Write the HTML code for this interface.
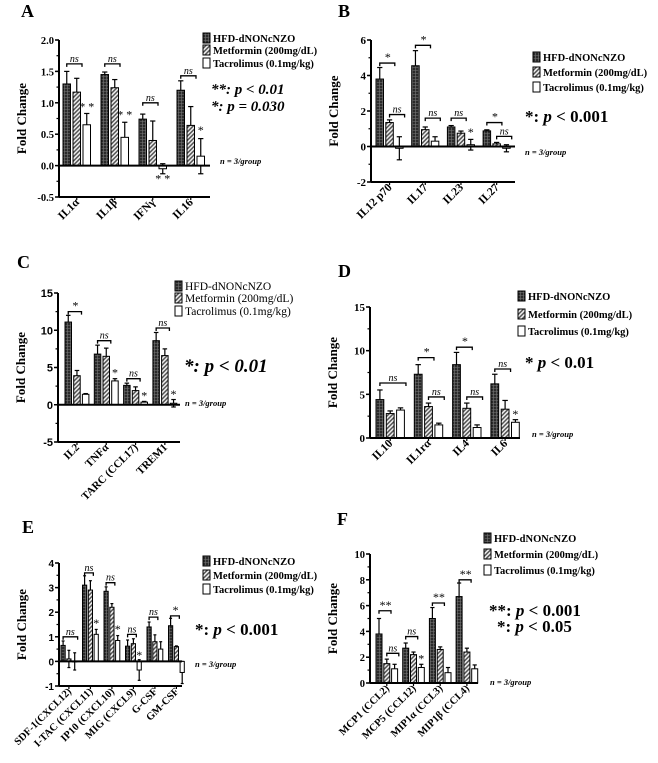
<!DOCTYPE html>
<html><head><meta charset="utf-8">
<style>
html,body{margin:0;padding:0;background:#fff;}
svg{display:block;font-family:"Liberation Serif",serif;}
</style></head>
<body>
<svg id="fig" width="658" height="763" viewBox="0 0 658 763" xmlns="http://www.w3.org/2000/svg">
<defs>
<pattern id="pGrid" width="3" height="3" patternUnits="userSpaceOnUse"><rect width="3" height="3" fill="#2a2a2a"/><path d="M0 1.5H3M1.5 0V3" stroke="#777" stroke-width="0.6"/></pattern>
<pattern id="pHatch" width="3" height="3" patternUnits="userSpaceOnUse" patternTransform="rotate(45)"><rect width="3" height="3" fill="#eee"/><rect width="1.5" height="3" fill="#555"/></pattern>
</defs>
</svg>
<script>
// Panel A
const catA=["IL1α","IL1β","IFNγ","IL16"];
const hfdA=[1.3,1.45,0.74,1.2], metA=[1.17,1.24,0.4,0.64], tacA=[0.65,0.45,-0.05,0.15];
const ehA=[0.2,0.04,0.08,0.15], emA=[0.22,0.13,0.31,0.3], etA=[0.18,0.24,0.08,0.28];
const tickA=[2.0,1.5,1.0,0.5,0.0,-0.5], tickLabA=["2.0","1.5","1.0","0.5","0.0","-0.5"];
// Panel B
const catB=["IL12 p70","IL17","IL23","IL27"];
const hfdB=[3.8,4.55,1.1,0.88], metB=[1.35,0.95,0.75,0.15], tacB=[-0.1,0.3,0.1,-0.1];
const ehB=[0.65,0.85,0.08,0.06], emB=[0.15,0.15,0.12,0.08], etB=[0.65,0.25,0.3,0.2];
const tickB=[6,4,2,0,-2], tickLabB=["6","4","2","0","-2"];
// Panel C
const catC=["IL2","TNFα","TARC (CCL17)","TREM1"];
const hfdC=[11.1,6.8,2.6,8.6], metC=[3.9,6.5,1.9,6.6], tacC=[1.4,3.2,0.35,0.2];
const ehC=[0.9,1.2,0.3,1.1], emC=[0.7,1.1,0.5,0.9], etC=[0.1,0.3,0.1,0.5];
const tickC=[15,10,5,0,-5], tickLabC=["15","10","5","0","-5"];
// Panel D
const catD=["IL10","IL1rα","IL4","IL6"];
const hfdD=[4.4,7.3,8.4,6.2], metD=[2.8,3.6,3.4,3.3], tacD=[3.2,1.5,1.2,1.8];
const ehD=[1.1,1.1,1.4,1.1], emD=[0.3,0.4,0.6,1.0], etD=[0.25,0.2,0.3,0.3];
const tickD=[15,10,5,0], tickLabD=["15","10","5","0"];
// Panel E
const catE=["SDF-1(CXCL12)","I-TAC (CXCL11)","IP10 (CXCL10)","MIG (CXCL9)","G-CSF","GM-CSF"];
const hfdE=[0.65,3.1,2.85,0.62,1.4,1.45], metE=[0.1,2.9,2.2,0.72,0.8,0.6], tacE=[0,1.1,0.85,-0.35,0.5,-0.45];
const ehE=[0.18,0.38,0.18,0.25,0.2,0.3], emE=[0.35,0.38,0.15,0.2,0.28,0.03], etE=[0.35,0.2,0.2,0.42,0.3,0.45];
const tickE=[4,3,2,1,0,-1], tickLabE=["4","3","2","1","0","-1"];
// Panel F
const catF=["MCP1 (CCL2)","MCP5 (CCL12)","MIP1α (CCL3)","MIP1β (CCL4)"];
const hfdF=[3.8,2.7,5.0,6.7], metF=[1.5,2.2,2.6,2.4], tacF=[1.1,1.2,0.8,1.1];
const ehF=[1.2,0.4,0.85,1.05], emF=[0.35,0.2,0.2,0.3], etF=[0.35,0.25,0.4,0.3];
const tickF=[10,8,6,4,2,0], tickLabF=["10","8","6","4","2","0"];

const NS="http://www.w3.org/2000/svg";
const svg=document.getElementById('fig');
function mk(tag,attrs,parent,txt){const e=document.createElementNS(NS,tag);for(const k in attrs)e.setAttribute(k,attrs[k]);if(txt!==undefined)e.textContent=txt;(parent||svg).appendChild(e);return e;}

const panels=[
 {id:'a',L:'A',lx:21,ly:17,ax:59,top:40,bot:197,ymax:2,ymin:-0.5,minor:0.25,ticks:tickA,tl:tickLabA,tfs:10.5,
  x0:63,gs:38,bw:7.5,gap:2.5,xend:210,cats:catA,cfs:11.5,s:[hfdA,metA,tacA],e:[ehA,emA,etA],
  br:[[0,0,1,1.62,'ns'],[1,0,1,1.62,'ns'],[2,0,1,1.0,'ns'],[3,0,1,1.43,'ns']],
  st:[[0,2,0.88,'* *'],[1,2,0.75,'* *'],[2,2,-0.27,'* *'],[3,2,0.5,'*']],
  lgx:203,lgy:[42,54,67],lfs:10.5,lb:true,
  p:[[211,94,'**: ',' < 0.01',15,true],[211,111,'*: ',' = 0.030',15,true]],n:[220,164,8.5]},
 {id:'b',L:'B',lx:338,ly:17,ax:371,top:40,bot:182,ymax:6,ymin:-2,minor:1,ticks:tickB,tl:tickLabB,tfs:11,
  x0:376,gs:35.7,bw:7.5,gap:2.3,xend:515,cats:catB,cfs:11.5,s:[hfdB,metB,tacB],e:[ehB,emB,etB],
  br:[[0,0,1,4.7,'*'],[1,0,1,5.7,'*'],[0,1,2,1.8,'ns'],[1,1,2,1.6,'ns'],[2,0,1,1.6,'ns'],[3,0,1,1.35,'*'],[3,1,2,0.57,'ns']],
  st:[[2,2,0.6,'*']],
  lgx:533,lgy:[61,76,91],lfs:10.5,lb:true,
  p:[[525,122,'*: ',' < 0.001',17,false]],n:[525,155,8.5]},
 {id:'c',L:'C',lx:17,ly:268,ax:58,top:293,bot:442,ymax:15,ymin:-5,minor:2.5,ticks:tickC,tl:tickLabC,tfs:11,sans:true,
  x0:65,gs:29.3,bw:6.5,gap:2.2,xend:180,cats:catC,cfs:11,s:[hfdC,metC,tacC],e:[ehC,emC,etC],
  br:[[0,0,1,12.5,'*'],[1,0,1,8.6,'ns'],[2,0,1,3.5,'ns'],[3,0,1,10.3,'ns']],
  st:[[1,2,3.8,'*'],[2,2,0.7,'*'],[3,2,0.9,'*']],
  lgx:175,lgy:[290,302,315],lfs:11.5,lb:false,
  p:[[184,372,'*: ',' < 0.01',19,true]],n:[185,406,8.5]},
 {id:'d',L:'D',lx:338,ly:277,ax:370,top:307,bot:438,ymax:15,ymin:0,minor:2.5,ticks:tickD,tl:tickLabD,tfs:11,
  x0:376,gs:38.3,bw:7.8,gap:2.5,xend:520,cats:catD,cfs:11.5,s:[hfdD,metD,tacD],e:[ehD,emD,etD],
  br:[[0,0,2,6.3,'ns'],[1,0,1,9.2,'*'],[1,1,2,4.7,'ns'],[2,0,1,10.4,'*'],[2,1,2,4.7,'ns'],[3,0,1,7.9,'ns']],
  st:[[3,2,2.3,'*']],
  lgx:518,lgy:[300,318,335],lfs:10.5,lb:true,
  p:[[525,368,'* ',' < 0.01',17,false]],n:[532,437,8.5]},
 {id:'e',L:'E',lx:22,ly:533,ax:59,top:563,bot:686,ymax:4,ymin:-1,minor:0.5,ticks:tickE,tl:tickLabE,tfs:10,sans:true,
  x0:61,gs:21.5,bw:4.2,gap:1.6,xend:182,cats:catE,cfs:10.5,s:[hfdE,metE,tacE],e:[ehE,emE,etE],
  br:[[0,0,2,1.0,'ns'],[1,0,1,3.6,'ns'],[2,0,1,3.2,'ns'],[3,0,1,1.1,'ns'],[4,0,1,1.8,'ns'],[5,0,1,1.85,'*']],
  st:[[1,2,1.4,'*'],[2,2,1.15,'*'],[3,2,0.1,'*']],
  lgx:203,lgy:[565,579,593],lfs:10.5,lb:true,
  p:[[195,635,'*: ',' < 0.001',17,false]],n:[195,667,8.5]},
 {id:'f',L:'F',lx:337,ly:525,ax:370,top:554,bot:683,ymax:10,ymin:0,minor:1,ticks:tickF,tl:tickLabF,tfs:10.5,
  x0:376,gs:26.7,bw:6,gap:1.8,xend:478,cats:catF,cfs:10.5,s:[hfdF,metF,tacF],e:[ehF,emF,etF],
  br:[[0,0,1,5.6,'**'],[0,1,2,2.3,'ns'],[1,0,1,3.6,'ns'],[2,0,1,6.2,'**'],[3,0,1,8.0,'**']],
  st:[[1,2,1.6,'*']],
  lgx:484,lgy:[542,558,574],lfs:10.5,lb:true,
  p:[[489,616,'**: ',' < 0.001',17,false],[497,632,'*: ',' < 0.05',17,false]],n:[490,685,8.5]}
];
const fills=['url(#pGrid)','url(#pHatch)','#fff'];
const legNames=['HFD-dNONcNZO','Metformin (200mg/dL)','Tacrolimus (0.1mg/kg)'];

panels.forEach(P=>{
  const g=mk('g',{});
  
  
  const y=v=>P.top+(P.ymax-v)*(P.bot-P.top)/(P.ymax-P.ymin);
  const bx=(gi,bi)=>P.x0+gi*P.gs+bi*(P.bw+P.gap);
  const tf=P.sans?'"Liberation Sans",sans-serif':'"Liberation Serif",serif';
  const lt=mk('text',{x:P.lx,y:P.ly,'font-size':18,'font-weight':'bold'},g,P.L);
  
  
  const ya=mk('line',{x1:P.ax,y1:P.top,x2:P.ax,y2:P.bot,stroke:'#000','stroke-width':2},g);
  
  
  for(let v=P.ymin;v<=P.ymax+1e-9;v+=P.minor){mk('line',{x1:P.ax-2.5,y1:y(v),x2:P.ax,y2:y(v),stroke:'#000','stroke-width':1.2},g);}
  P.ticks.forEach((v,i)=>{
    mk('line',{x1:P.ax-4,y1:y(v),x2:P.ax,y2:y(v),stroke:'#000','stroke-width':1.5},g);
    const t=mk('text',{x:P.ax-5,y:y(v)+4,'text-anchor':'end','font-size':P.tfs,'font-weight':'bold','font-family':tf},g,P.tl[i]);
    
    
  });
  const yt=mk('text',{transform:`translate(${P.ax-33},${(P.top+P.bot)/2}) rotate(-90)`,'text-anchor':'middle','font-size':13,'font-weight':'bold'},g,'Fold Change');
  
  
  P.s.forEach((ser,si)=>{
    ser.forEach((v,gi)=>{
      const x=bx(gi,si), y1=y(Math.max(v,0)), y2=y(Math.min(v,0));
      const c=x+P.bw/2, er=P.e[si][gi];
      mk('line',{x1:c,y1:y(v+er),x2:c,y2:y(v-er),stroke:'#000','stroke-width':1.2},g);
      [v+er,v-er].forEach(ev=>mk('line',{x1:c-P.bw*0.35,y1:y(ev),x2:c+P.bw*0.35,y2:y(ev),stroke:'#000','stroke-width':1.2},g));
      const r=mk('rect',{x:x,y:y1,width:P.bw,height:Math.max(y2-y1,0.5),fill:fills[si],stroke:'#000','stroke-width':1},g);
      
      
    });
  });
  mk('line',{x1:P.ax,y1:y(0),x2:P.xend,y2:y(0),stroke:'#000','stroke-width':2},g);
  if(P.ymin<0){const xa=mk('line',{x1:P.ax,y1:P.bot,x2:P.xend,y2:P.bot,stroke:'#000','stroke-width':2},g);
    
    }
  P.cats.forEach((c,gi)=>{
    const cx=bx(gi,1)+P.bw/2+3;
    mk('line',{x1:cx-3,y1:P.bot,x2:cx-3,y2:P.bot+3,stroke:'#000','stroke-width':1.2},g);
    const t=mk('text',{transform:`translate(${cx},${P.bot+6}) rotate(-45)`,'text-anchor':'end','font-size':P.cfs,'font-weight':'bold'},g,c);
    
    
  });
  P.br.forEach(b=>{
    const x1=bx(b[0],b[1])+P.bw/2, x2=bx(b[0],b[2])+P.bw*1.2, yy=y(b[3]);
    const pth=mk('path',{d:`M${x1} ${yy+3}V${yy}H${x2}V${yy+3}`,fill:'none',stroke:'#000','stroke-width':1.3},g);
    
    
    mk('text',{x:(x1+x2)/2,y:yy-2,'text-anchor':'middle','font-size':b[4]=='ns'?10:12,'font-style':'italic'},g,b[4]);
  });
  P.st.forEach(s=>{
    const t=mk('text',{x:bx(s[0],s[1])+P.bw/2,y:y(s[2]),'text-anchor':'middle','font-size':12},g,s[3]);
    
    
  });
  legNames.forEach((nm,i)=>{
    const ly=P.lgy[i];
    const sw=mk('rect',{x:P.lgx,y:ly-9,width:7,height:10,fill:fills[i],stroke:'#000','stroke-width':1},g);
    
    
    const t=mk('text',{x:P.lgx+10,y:ly,'font-size':P.lfs,'font-weight':P.lb?'bold':'normal'},g,nm);
    
    
  });
  P.p.forEach(p=>{
    const t=mk('text',{x:p[0],y:p[1],'font-size':p[4],'font-weight':'bold','font-style':p[5]?'italic':'normal'},g);
    
    
    mk('tspan',{},t,p[2]);mk('tspan',{'font-style':'italic'},t,'p');mk('tspan',{},t,p[3]);
  });
  const nt=mk('text',{x:P.n[0],y:P.n[1],'font-size':P.n[2],'font-weight':'bold','font-style':'italic'},g,'n = 3/group');
  
  
});
</script>
</body></html>
